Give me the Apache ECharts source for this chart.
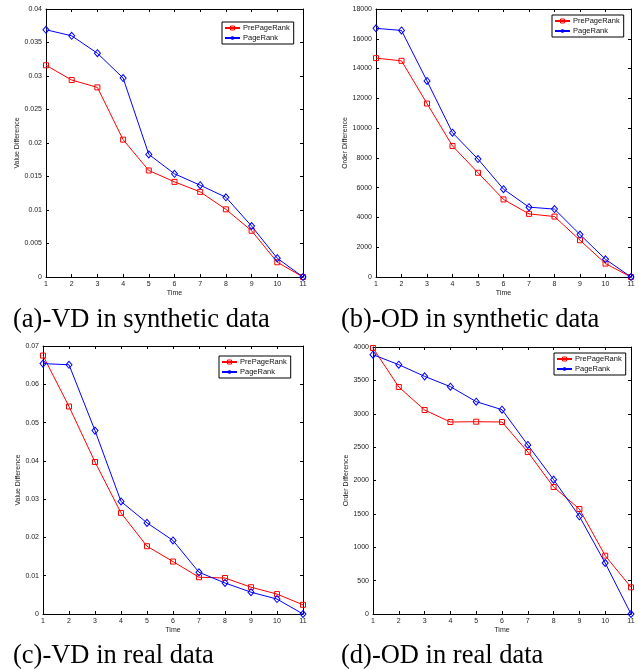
<!DOCTYPE html>
<html>
<head>
<meta charset="utf-8">
<script src="https://cdn.jsdelivr.net/npm/echarts@6/dist/echarts.min.js"></script>
<style>
html,body{margin:0;padding:0;background:#fff;}
#c{width:639px;height:670px;}
</style>
</head>
<body>
<div id="c"></div>
<script>
// ---- data ----
const times = [1, 2, 3, 4, 5, 6, 7, 8, 9, 10, 11];
const seriesNames = ['PrePageRank', 'PageRank'];
const captions = ['(a)-VD in synthetic data', '(b)-OD in synthetic data', '(c)-VD in real data', '(d)-OD in real data'];
const yNames = ['Value Difference', 'Order Difference', 'Value Difference', 'Order Difference'];
const xName = 'Time';

const vdSynPre = [0.0316, 0.0294, 0.0283, 0.0205, 0.0159, 0.0142, 0.0127, 0.0101, 0.0069, 0.0022, 0];
const vdSynPR  = [0.0369, 0.0360, 0.0334, 0.0297, 0.0183, 0.0154, 0.0137, 0.0119, 0.0076, 0.0028, 0];
const odSynPre = [14700, 14520, 11650, 8800, 7000, 5210, 4240, 4060, 2470, 900, 0];
const odSynPR  = [16700, 16560, 13170, 9690, 7920, 5900, 4690, 4560, 2850, 1190, 0];
const vdRealPre = [0.0675, 0.0542, 0.0397, 0.0264, 0.0177, 0.0137, 0.0096, 0.0094, 0.0070, 0.0052, 0.0024];
const vdRealPR  = [0.0654, 0.0651, 0.0479, 0.0294, 0.0238, 0.0192, 0.0109, 0.0081, 0.0057, 0.0039, 0];
const odRealPre = [3985, 3401, 3056, 2876, 2881, 2876, 2427, 1903, 1573, 874, 400];
const odRealPR  = [3885, 3735, 3560, 3406, 3181, 3061, 2532, 2013, 1463, 764, 0];

const yMax = [0.04, 18000, 0.07, 4000];
const yInterval = [0.005, 2000, 0.01, 500];
const panelData = [[vdSynPre, vdSynPR], [odSynPre, odSynPR], [vdRealPre, vdRealPR], [odRealPre, odRealPR]];

// ---- layout ----
const grids = [
  {left: 46, top: 9, width: 257, height: 268},
  {left: 376, top: 9, width: 255, height: 268},
  {left: 43, top: 346, width: 260, height: 268},
  {left: 373, top: 347, width: 258, height: 267}
];
const yNameGap = [24, 26, 20, 23];
const legendPos = [{left: 222, top: 22}, {left: 552, top: 15}, {left: 219, top: 356}, {left: 554, top: 353}];
const captionPos = [{left: 13, top: 307}, {left: 341, top: 307}, {left: 13, top: 643}, {left: 341, top: 643}];

const sans = 'Liberation Sans, Arial, Helvetica, sans-serif';
const serif = 'Liberation Serif, Times New Roman, serif';
const cols = ['#ff0000', '#0000ff'];
const syms = ['rect', 'diamond'];
const sizes = [5, [6, 7]];

function fmt(v) {
  return String(parseFloat(v.toPrecision(10)));
}

const xAxes = [], yAxes = [], series = [], legends = [], titles = [];
grids.forEach((g, i) => {
  g.outerBoundsMode = 'none';
  const common = {
    gridIndex: i,
    axisLine: {show: true, onZero: false, lineStyle: {color: '#000', width: 1}},
    axisTick: {show: true, inside: true, length: 3, lineStyle: {color: '#000', width: 1}},
    splitLine: {show: false},
    axisLabel: {fontFamily: sans, fontSize: 7, color: '#222', margin: 4, formatter: fmt}
  };
  xAxes.push(Object.assign({}, common, {
    type: 'value', min: 1, max: 11, interval: 1, position: 'bottom',
    name: xName, nameLocation: 'middle', nameGap: 13,
    nameTextStyle: {fontFamily: sans, fontSize: 7, color: '#222'}
  }));
  xAxes.push(Object.assign({}, common, {
    type: 'value', min: 1, max: 11, interval: 1, position: 'top',
    axisLabel: {show: false}
  }));
  yAxes.push(Object.assign({}, common, {
    type: 'value', min: 0, max: yMax[i], interval: yInterval[i], position: 'left',
    name: yNames[i], nameLocation: 'middle', nameGap: yNameGap[i], nameRotate: 90,
    nameTextStyle: {fontFamily: sans, fontSize: 7, color: '#222'}
  }));
  yAxes.push(Object.assign({}, common, {
    type: 'value', min: 0, max: yMax[i], interval: yInterval[i], position: 'right',
    axisLabel: {show: false}
  }));
  seriesNames.forEach((nm, k) => {
    series.push({
      type: 'line', name: nm,
      xAxisIndex: i * 2, yAxisIndex: i * 2,
      data: times.map((t, j) => [t, panelData[i][k][j]]),
      symbol: syms[k], symbolSize: sizes[k], showAllSymbol: true,
      lineStyle: {color: cols[k], width: 1},
      itemStyle: {color: 'rgba(255,255,255,0)', borderColor: cols[k], borderWidth: 1},
      z: 3 + k,
      clip: false
    });
  });
  legends.push({
    left: legendPos[i].left, top: legendPos[i].top, orient: 'vertical',
    data: seriesNames,
    selectedMode: false,
    itemStyle: {color: 'rgba(255,255,255,0)', borderWidth: 1},
    backgroundColor: '#fff', borderColor: '#000', borderWidth: 1,
    padding: [2, 4, 2, 2], itemGap: 2, itemWidth: 15, itemHeight: 5,
    textStyle: {fontFamily: sans, fontSize: 7.5, color: '#111', padding: [0, 0, 0, -2]}
  });
  titles.push({
    text: captions[i], left: captionPos[i].left, top: captionPos[i].top, padding: 0,
    textStyle: {fontFamily: serif, fontSize: 26.5, fontWeight: 'normal', color: '#000'}
  });
});

const chart = echarts.init(document.getElementById('c'));
chart.setOption({
  animation: false,
  backgroundColor: '#fff',
  title: titles,
  grid: grids,
  xAxis: xAxes,
  yAxis: yAxes,
  legend: legends,
  series: series
});
</script>
</body>
</html>
